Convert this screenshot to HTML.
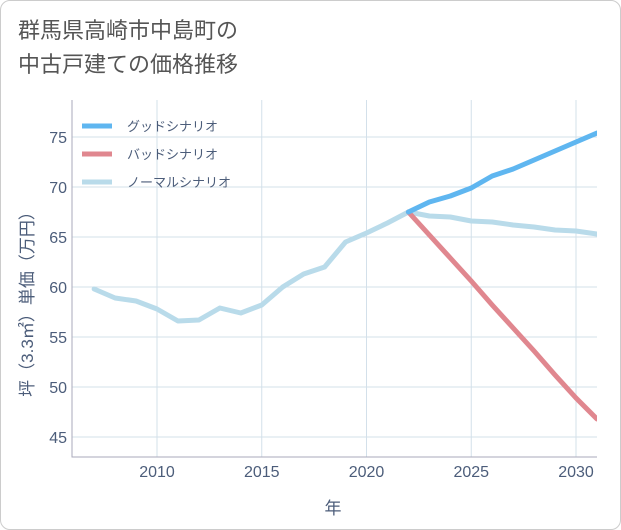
<!DOCTYPE html>
<html><head><meta charset="utf-8"><style>
body{margin:0;background:#fff;}
.card{position:absolute;left:0;top:0;width:619px;height:528px;border:1px solid #ccc;border-radius:10px;background:#fff;}
.title{position:absolute;left:18px;top:14px;font:22px "Liberation Sans","Noto Sans CJK JP",sans-serif;color:#555;line-height:34px;}
</style></head><body>
<div class="card"></div>
<div class="title">群馬県高崎市中島町の<br>中古戸建ての価格推移</div>
<svg id="chart" width="621" height="530" style="position:absolute;left:0;top:0">
<defs><clipPath id="plotclip"><rect x="72" y="95" width="525" height="362"/></clipPath></defs>
</svg>
<script>
const years=[2007,2008,2009,2010,2011,2012,2013,2014,2015,2016,2017,2018,2019,2020,2021,2022,2023,2024,2025,2026,2027,2028,2029,2030,2031];
const normalVals=[59.8,58.9,58.6,57.8,56.6,56.7,57.9,57.4,58.2,60.0,61.3,62.0,64.5,65.4,66.4,67.5,67.1,67.0,66.6,66.5,66.2,66.0,65.7,65.6,65.3];
const goodYears=[2022,2023,2024,2025,2026,2027,2028,2029,2030,2031];
const goodVals=[67.5,68.5,69.1,69.9,71.1,71.8,72.7,73.6,74.5,75.4];
const badVals=[67.5,65.2,62.9,60.6,58.2,55.9,53.6,51.2,48.9,46.8];
const xTicks=[2010,2015,2020,2025,2030];
const yTicks=[45,50,55,60,65,70,75];
const NS='http://www.w3.org/2000/svg';
const svg=document.getElementById('chart');
const L=72,R=597,T=100,B=457;
const TXT='#4c5d7a';
const x=v=>157+(v-2010)*20.95;
const y=v=>437-(v-45)*10;
function el(t,a){const e=document.createElementNS(NS,t);for(const k in a)e.setAttribute(k,a[k]);svg.appendChild(e);return e;}
for(const t of xTicks){const g=el('line',{x1:x(t),x2:x(t),y1:T,y2:B,stroke:'#d3e0ea'});


const l=el('text',{x:x(t),y:477,'text-anchor':'middle','font-size':16,fill:TXT,'font-family':'Liberation Sans'});l.textContent=t;

}
for(const t of yTicks){const g=el('line',{x1:L,x2:R,y1:y(t),y2:y(t),stroke:'#d3e0ea'});


const l=el('text',{x:67,y:y(t)+6,'text-anchor':'end','font-size':16,fill:TXT,'font-family':'Liberation Sans'});l.textContent=t;

}
const ax=el('path',{d:`M${L} ${T}V${B}H${R}`,stroke:'#aab',fill:'none'});


function line(xs,vs,c,name){const p=el('polyline',{points:xs.map((v,i)=>x(v)+','+y(vs[i])).join(' '),fill:'none',stroke:c,'stroke-width':5,'stroke-linejoin':'round','stroke-linecap':'round','clip-path':'url(#plotclip)'});

}
line(years,normalVals,'#b9dbea','normal-line');
line(goodYears,badVals,'#e0878f','bad-line');
line(goodYears,goodVals,'#5fb6f0','good-line');
const leg=[['グッドシナリオ','#5fb6f0',126],['バッドシナリオ','#e0878f',154],['ノーマルシナリオ','#b9dbea',182]];
for(const [n,c,yy] of leg){const s=el('line',{x1:82,x2:112,y1:yy,y2:yy,stroke:c,'stroke-width':5});


const t=el('text',{x:127,y:yy+5,'font-size':13,fill:TXT,'font-family':'Liberation Sans, Noto Sans CJK JP, sans-serif'});t.textContent=n;

}
const xt=el('text',{x:333,y:514,'text-anchor':'middle','font-size':17,fill:TXT,'font-family':'Liberation Sans, Noto Sans CJK JP, sans-serif'});xt.textContent='年';


const yt=el('text',{x:0,y:0,transform:'translate(33,300) rotate(-90)','text-anchor':'middle','font-size':17,fill:TXT,'font-family':'Liberation Sans, Noto Sans CJK JP, sans-serif'});yt.textContent='坪（3.3㎡）単価（万円）';


</script>
</body></html>
